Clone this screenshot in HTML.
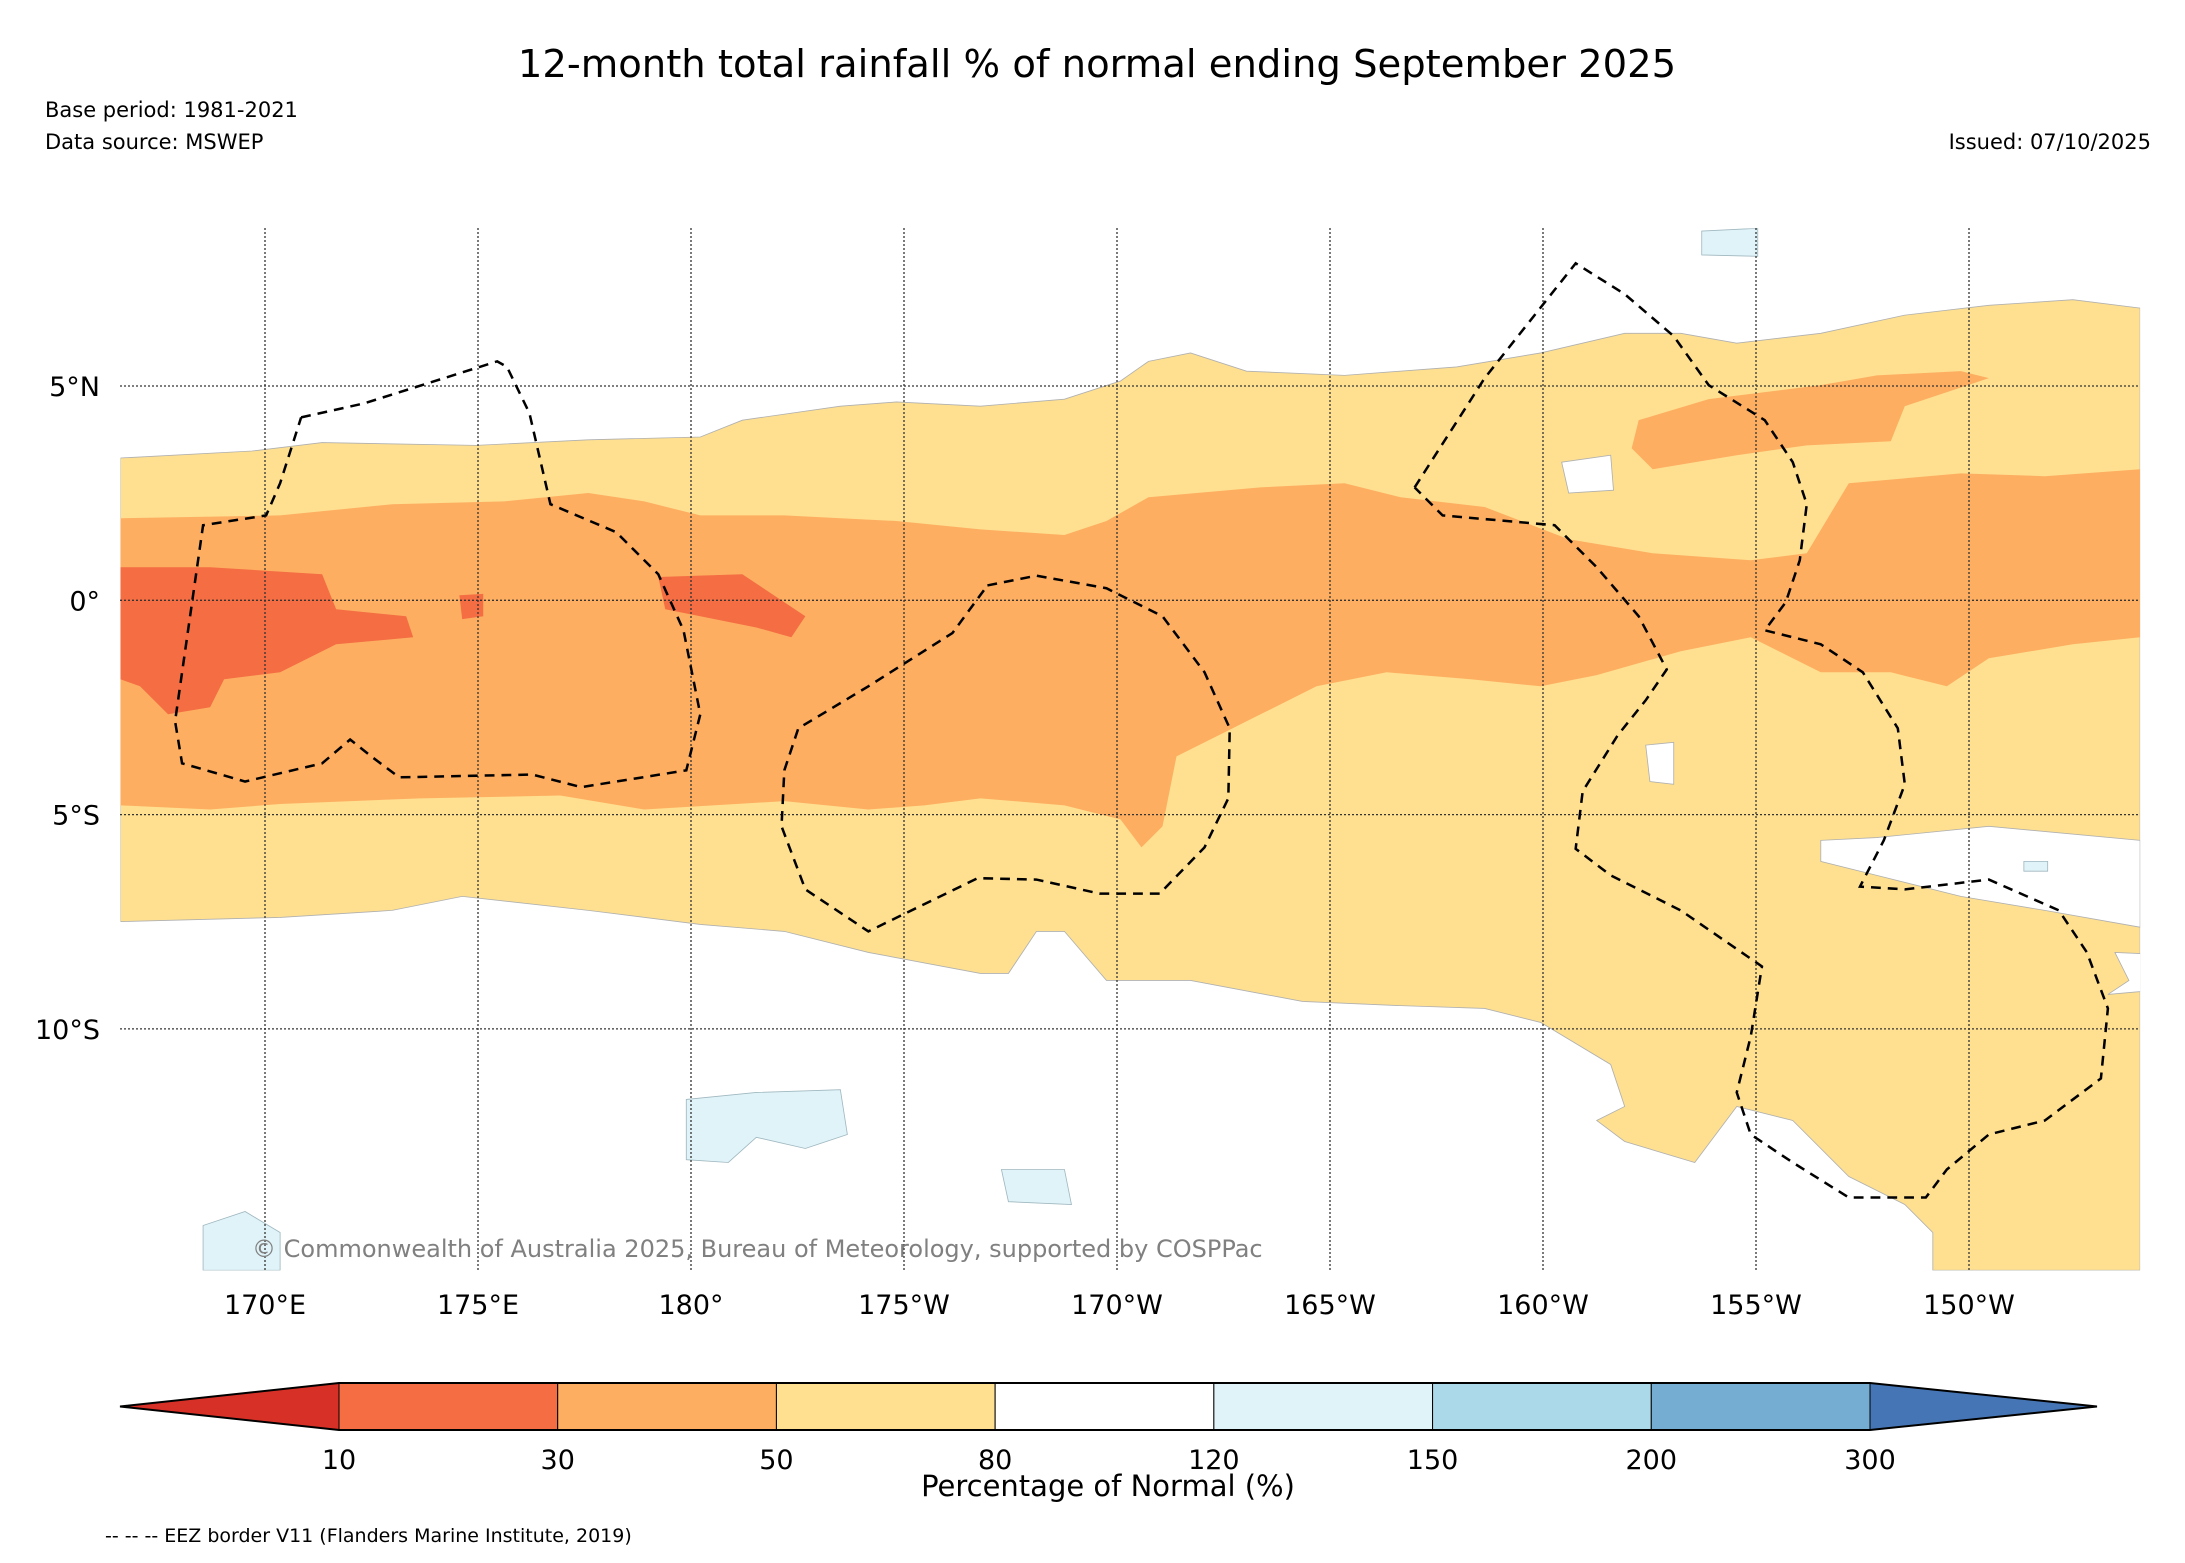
<!DOCTYPE html>
<html><head><meta charset="utf-8"><style>
html,body{margin:0;padding:0;background:#fff;}
svg{display:block;font-family:"DejaVu Sans","Liberation Sans",sans-serif;}
</style></head><body>
<svg id="chart" width="2185" height="1563" viewBox="0 0 2185 1563" xmlns="http://www.w3.org/2000/svg">
<text x="1097" y="77" font-size="38.5" text-anchor="middle" fill="#000">12-month total rainfall % of normal ending September 2025</text>
<text x="45" y="117" font-size="21">Base period: 1981-2021</text>
<text x="45" y="149" font-size="21">Data source: MSWEP</text>
<text x="2151" y="149" font-size="21" text-anchor="end">Issued: 07/10/2025</text>
<defs><clipPath id="mapclip"><rect x="86" y="163" width="1442" height="744"/></clipPath></defs>
<g id="map" transform="scale(1.4006)" clip-path="url(#mapclip)"></g>
<g id="grid"></g>
<g id="eez" transform="scale(1.4006)"></g>
<text x="252" y="1257" font-size="24" fill="#808080">© Commonwealth of Australia 2025, Bureau of Meteorology, supported by COSPPac</text>
<g id="axes"></g>
<g id="cbar"></g>
<text x="1108" y="1496" font-size="29" text-anchor="middle">Percentage of Normal (%)</text>
<text x="105" y="1542" font-size="19">-- -- -- EEZ border V11 (Flanders Marine Institute, 2019)</text>
</svg>
<script>
const NS="http://www.w3.org/2000/svg";
const cbLabels=["10","30","50","80","120","150","200","300"];
const cbColors=["#f46d43","#fdae61","#fee090","#ffffff","#e0f3f8","#abd9e9","#74add1"];
const lowColor="#d73027", highColor="#4575b4";
const lonLabels=["170°E","175°E","180°","175°W","170°W","165°W","160°W","155°W","150°W"];
const latLabels=["5°N","0°","5°S","10°S"];
const lonX0=265, lonStep=213, latY0=386, latStep=214.3;
const mapL=120,mapR=2140,mapT=228,mapB=1270;
const yellowBand=[[86,327],[180,322],[230,316],[340,318],[420,314],[500,312],[530,300],[600,290],[640,287],[700,290],[760,285],[800,272],[820,258],[850,252],[890,265],[960,268],[1040,262],[1100,252],[1160,238],[1200,238],[1240,245],[1300,238],[1360,225],[1420,218],[1480,214],[1528,220],[1528,907],[1380,907],[1380,880],[1360,860],[1320,840],[1280,800],[1240,790],[1210,830],[1160,815],[1140,800],[1160,790],[1150,760],[1100,730],[1060,720],[1000,718],[930,715],[850,700],[790,700],[760,665],[740,665],[720,695],[700,695],[620,680],[560,665],[500,660],[420,650],[330,640],[280,650],[200,655],[86,658]];
const orangeBand=[[86,370],[200,368],[280,360],[360,358],[420,352],[460,358],[500,368],[560,368],[640,372],[700,378],[760,382],[790,372],[820,355],[900,348],[960,345],[1000,355],[1060,362],[1120,385],[1180,395],[1250,400],[1290,395],[1320,345],[1400,338],[1460,340],[1528,335],[1528,455],[1480,460],[1420,470],[1390,490],[1350,480],[1300,480],[1250,455],[1200,465],[1140,482],[1100,490],[1050,485],[990,480],[940,490],[900,510],[870,525],[840,540],[830,590],[815,605],[800,585],[760,575],[700,570],[660,575],[620,578],[560,572],[460,578],[400,568],[300,570],[200,574],[150,578],[86,575]];
const orangeNE=[[1170,300],[1220,285],[1300,275],[1340,268],[1400,265],[1420,270],[1360,290],[1350,315],[1290,318],[1240,325],[1180,335],[1165,320]];
const redWest=[[86,405],[150,405],[230,410],[240,435],[290,440],[295,455],[240,460],[200,480],[160,485],[150,505],[120,510],[100,490],[86,485]];
const redMid=[[470,412],[530,410],[560,430],[575,440],[565,455],[540,448],[500,440],[475,435]];
const redSmall=[[328,425],[345,424],[345,440],[330,442]];
const whiteHoles=[[[1300,600],[1340,598],[1420,590],[1528,600],[1528,662],[1460,650],[1400,640],[1340,625],[1300,615]],[[1115,330],[1150,325],[1152,350],[1120,352]],[[1175,532],[1195,530],[1195,560],[1178,558]],[[1735,690],[1510,680],[1520,700],[1505,710]]];
const blueBlobs=[[[490,785],[540,780],[600,778],[605,810],[575,820],[540,812],[520,830],[490,828]],[[715,835],[760,835],[765,860],[720,858]],[[145,875],[175,865],[200,880],[200,907],[145,907]],[[1215,165],[1255,163],[1255,183],[1215,182]],[[1445,615],[1462,615],[1462,622],[1445,622]]];
const eezWest=[[215,298],[260,288],[355,258],[362,262],[378,295],[393,360],[440,380],[470,410],[488,450],[500,510],[490,550],[415,562],[380,553],[285,555],[265,540],[250,528],[230,545],[175,558],[130,545],[125,515],[145,375],[190,368],[200,345],[215,298]];
const eezMid=[[705,418],[740,411],[790,420],[830,440],[860,480],[878,520],[877,570],[860,605],[828,638],[785,638],[740,628],[698,627],[620,665],[575,635],[558,590],[560,550],[570,520],[620,490],[680,452],[705,418]];
const eezEast=[[1010,348],[1060,270],[1125,188],[1160,210],[1195,240],[1220,275],[1260,300],[1280,330],[1290,360],[1285,400],[1275,430],[1260,450],[1300,460],[1330,480],[1355,520],[1360,560],[1345,600],[1328,633],[1360,635],[1420,628],[1470,650],[1490,680],[1505,720],[1500,770],[1460,800],[1420,810],[1390,835],[1375,855],[1320,855],[1280,830],[1250,810],[1240,780],[1250,740],[1258,690],[1200,650],[1150,625],[1125,606],[1130,565],[1155,525],[1175,500],[1190,478],[1170,440],[1140,405],[1110,375],[1030,368],[1010,348]];

const pts=a=>a.map(p=>p.join(",")).join(" ");
const map=document.getElementById("map");
function poly(parent,a,fill,stroke,name){const e=document.createElementNS(NS,"polygon");e.setAttribute("points",pts(a));e.setAttribute("fill",fill);e.setAttribute("stroke",stroke);e.setAttribute("stroke-width","0.6");


parent.appendChild(e);return e;}
poly(map,yellowBand,"#fee090","#b0b0b0","rainfall-50-80-region");
whiteHoles.forEach(h=>poly(map,h,"#ffffff","#b0b0b0","rainfall-80-120-region"));
poly(map,orangeBand,"#fdae61","none","rainfall-30-50-region");
poly(map,orangeNE,"#fdae61","none","rainfall-30-50-region");
[redWest,redMid,redSmall].forEach(r=>poly(map,r,"#f46d43","none","rainfall-10-30-region"));
blueBlobs.forEach(b=>poly(map,b,"#e0f3f8","#a0b8c0","rainfall-120-150-region"));

const grid=document.getElementById("grid");
function line(parent,x1,y1,x2,y2,dash,name){const l=document.createElementNS(NS,"line");l.setAttribute("x1",x1);l.setAttribute("y1",y1);l.setAttribute("x2",x2);l.setAttribute("y2",y2);l.setAttribute("stroke","#333");l.setAttribute("stroke-width","1.3");l.setAttribute("stroke-dasharray",dash);


parent.appendChild(l);}
const axes=document.getElementById("axes");
function txt(parent,x,y,s,size,anchor,name){const t=document.createElementNS(NS,"text");t.setAttribute("x",x);t.setAttribute("y",y);t.setAttribute("font-size",size);t.setAttribute("text-anchor",anchor);t.textContent=s;


parent.appendChild(t);}
lonLabels.forEach((s,i)=>{const x=lonX0+i*lonStep;line(grid,x,mapT,x,mapB,"2,2","meridian-line");txt(axes,x,1314,s,27,"middle","x-tick-label");});
latLabels.forEach((s,i)=>{const y=latY0+i*latStep;line(grid,mapL,y,mapR,y,"2,2","parallel-line");txt(axes,100,y+10,s,27,"end","y-tick-label");});

const eez=document.getElementById("eez");
[eezWest,eezMid,eezEast].forEach(a=>{const p=document.createElementNS(NS,"polyline");p.setAttribute("points",pts(a));p.setAttribute("fill","none");p.setAttribute("stroke","#000");p.setAttribute("stroke-width","1.8");p.setAttribute("stroke-dasharray","7,5");


eez.appendChild(p);});

const cb=document.getElementById("cbar");
const cbL=339,cbR=1870,cbT=1383,cbB=1430,tipL=120,tipR=2097;
const segW=(cbR-cbL)/cbColors.length;
poly(cb,[[tipL,(cbT+cbB)/2],[cbL,cbT],[cbL,cbB]],lowColor,"#000","colorbar-low-extension");
poly(cb,[[tipR,(cbT+cbB)/2],[cbR,cbT],[cbR,cbB]],highColor,"#000","colorbar-high-extension");
cbColors.forEach((c,i)=>{const r=document.createElementNS(NS,"rect");r.setAttribute("x",cbL+i*segW);r.setAttribute("y",cbT);r.setAttribute("width",segW);r.setAttribute("height",cbB-cbT);r.setAttribute("fill",c);r.setAttribute("stroke","#000");r.setAttribute("stroke-width","1");


cb.appendChild(r);});
const frame=document.createElementNS(NS,"polygon");
frame.setAttribute("points",pts([[tipL,(cbT+cbB)/2],[cbL,cbT],[cbR,cbT],[tipR,(cbT+cbB)/2],[cbR,cbB],[cbL,cbB]]));
frame.setAttribute("fill","none");frame.setAttribute("stroke","#000");frame.setAttribute("stroke-width","2");


cb.appendChild(frame);
cbLabels.forEach((s,i)=>txt(cb,cbL+i*segW,1469,s,27,"middle","colorbar-tick-label"));
</script>
</body></html>
